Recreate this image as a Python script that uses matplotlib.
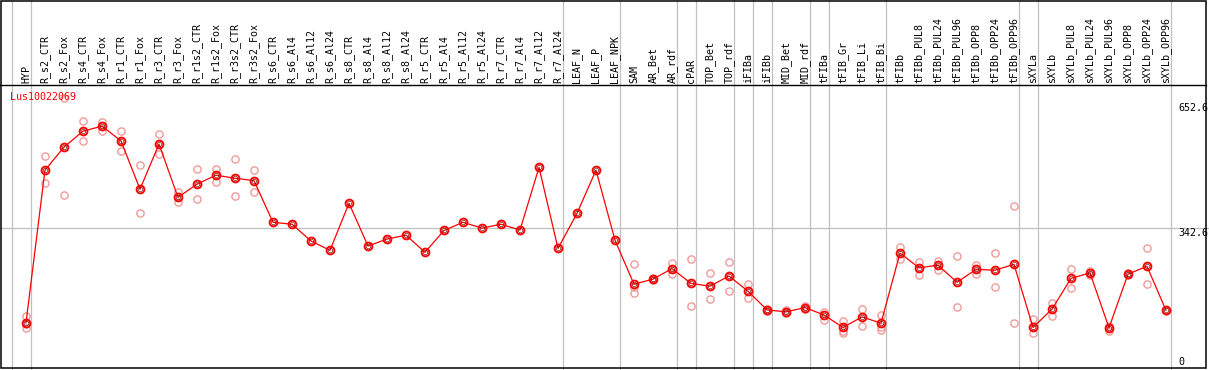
import numpy as np
import matplotlib
matplotlib.use("Agg")
import matplotlib.pyplot as plt
from matplotlib.transforms import blended_transform_factory
from matplotlib.patches import Rectangle

nan = np.nan

categories = ["HYP", "R_s2_CTR", "R_s2_Fox", "R_s4_CTR", "R_s4_Fox", "R_r1_CTR", "R_r1_Fox",
              "R_r3_CTR", "R_r3_Fox", "R_r1s2_CTR", "R_r1s2_Fox", "R_r3s2_CTR", "R_r3s2_Fox",
              "R_s6_CTR", "R_s6_Al4", "R_s6_Al12", "R_s6_Al24", "R_s8_CTR", "R_s8_Al4",
              "R_s8_Al12", "R_s8_Al24", "R_r5_CTR", "R_r5_Al4", "R_r5_Al12", "R_r5_Al24",
              "R_r7_CTR", "R_r7_Al4", "R_r7_Al12", "R_r7_Al24", "LEAF_N", "LEAF_P", "LEAF_NPK",
              "SAM", "AR_Bet", "AR_rdf", "cPAR", "TOP_Bet", "TOP_rdf", "iFIBa", "iFIBb",
              "MID_Bet", "MID_rdf", "tFIBa", "tFIB_Gr", "tFIB_Li", "tFIB_Bi", "tFIBb",
              "tFIBb_PUL8", "tFIBb_PUL24", "tFIBb_PUL96", "tFIBb_OPP8", "tFIBb_OPP24",
              "tFIBb_OPP96", "sXYLa", "sXYLb", "sXYLb_PUL8", "sXYLb_PUL24", "sXYLb_PUL96",
              "sXYLb_OPP8", "sXYLb_OPP24", "sXYLb_OPP96"]

means = [100, 492, 551, 592, 605, 567, 443, 559, 422, 456, 479, 471, 465,
         358, 353, 310, 286, 407, 297, 315, 325, 281, 337, 358, 343, 353, 338, 499, 291,
         381, 492, 312,
         199, 212, 239, 201, 194, 220, 181, 133, 128, 139, 120, 88, 115, 99,
         279, 241, 248, 204, 237, 235, 250, 88, 135, 214, 228, 87, 225, 245, 132]

rep1 = [118, 528, 676, 617, 616, 592, 504, 584, 437, 496, 495, 520, 492,
        nan, nan, nan, nan, nan, nan, nan, nan, nan, nan, nan, nan, nan, nan, nan, nan,
        nan, nan, nan,
        250, 214, 254, 264, 227, 255, 199, 135, 134, 142, 128, 105, 135, 120,
        295, 255, 259, 271, 249, 279, 399, 110, 152, 237, 233, 92, 228, 291, 134]

rep2 = [96, 458, 427, 566, 592, 541, 381, 533, 410, 417, 462, 425, 436,
        nan, nan, nan, nan, nan, nan, nan, nan, nan, nan, nan, nan, nan, nan, nan, nan,
        nan, nan, nan,
        191, 209, 225, 143, 160, 181, 163, 131, 124, 136, 107, 79, 92, 88,
        263, 222, 236, 140, 225, 191, 99, 73, 118, 188, 222, 80, 222, 199, 129]

rep3 = [87, nan, nan, nan, nan, nan, nan, nan, nan, nan, nan, nan, nan,
        nan, nan, nan, nan, nan, nan, nan, nan, nan, nan, nan, nan, nan, nan, nan, nan,
        nan, nan, nan,
        176, nan, nan, nan, nan, nan, nan, nan, nan, nan, nan, 73, nan, 81,
        nan, nan, nan, nan, nan, nan, nan, nan, nan, nan, nan, nan, nan, nan, nan]

# group separators drawn just after these category indices
group_ends = [-1, 0, 28, 31, 34, 35, 37, 38, 39, 41, 42, 45, 52, 53, 60]

gene_label = "Lus10022069"
y_tick_values = [652.6, 342.6, 0]
y_tick_labels = ["652.6", "342.6", "0"]

# ---- layout (pixel geometry of the reference) ----
W, H = 1209, 370
X0, DX = 26.0, 19.0          # pixel x of first category, spacing
Y0, SY = 361.7, 0.3894       # pixel y of value 0, pixels per unit

def yf(py):
    return 1 - py / H

def xf(px):
    return px / W

FONT = "DejaVu Sans Mono"
FS = 7.2

fig = plt.figure(figsize=(W / 100, H / 100), dpi=100)
ax = fig.add_axes([0, 0, 1, 1])
ax.set_xlim((0 - X0) / DX, (W - X0) / DX)
ax.set_ylim((Y0 - H) / SY, (Y0 - 0) / SY)
ax.set_axis_off()

x = np.arange(len(categories))

# separators
for b in group_ends:
    ax.axvline(b + 0.25, color="#c0c0c0", lw=0.9, zorder=1)
ax.axhline(342.6, color="#c0c0c0", lw=0.9, zorder=1)

# header separator line and border
ax.plot([0, xf(1206)], [yf(85), yf(85)], transform=ax.transAxes, color="black", lw=1.0,
        clip_on=False, zorder=5)
ax.add_patch(Rectangle((xf(0.7), yf(368)), xf(1205.5), yf(0.7) - yf(368),
                       transform=ax.transAxes, fill=False, ec="black", lw=1.1,
                       clip_on=False, zorder=5))

# header labels
tr_xdata = blended_transform_factory(ax.transData, ax.transAxes)
for i, lab in enumerate(categories):
    ax.text(i, yf(83), lab, transform=tr_xdata, rotation=90, ha="center", va="bottom",
            fontsize=FS, family=FONT, color="black")

# replicates
for reps in (rep1, rep2, rep3):
    ax.plot(x, reps, linestyle="none", marker="o", markersize=5.2, markerfacecolor="none",
            markeredgecolor="#f09a9a", markeredgewidth=1.0, zorder=2)

# mean line and markers
ax.plot(x, means, color="red", lw=0.9, zorder=3)
ax.plot(x, means, linestyle="none", marker="o", markersize=5.6, markerfacecolor="none",
        markeredgecolor="red", markeredgewidth=1.4, zorder=4)
ax.plot(x, means, linestyle="none", marker="o", markersize=3.2, markerfacecolor="none",
        markeredgecolor="#600000", markeredgewidth=0.4, zorder=4)

# gene label
ax.text(xf(10), yf(92), gene_label, transform=ax.transAxes, ha="left", va="top",
        fontsize=FS, family=FONT, color="red")

# right-side value labels
tr_ydata = blended_transform_factory(ax.transAxes, ax.transData)
for v, t in zip(y_tick_values, y_tick_labels):
    va = "top" if t == "342.6" else "center"
    ax.text(xf(1178), v, t, transform=tr_ydata, ha="left", va=va,
            fontsize=FS, family=FONT, color="black")

fig.savefig("out.png", dpi=100, facecolor="white")
